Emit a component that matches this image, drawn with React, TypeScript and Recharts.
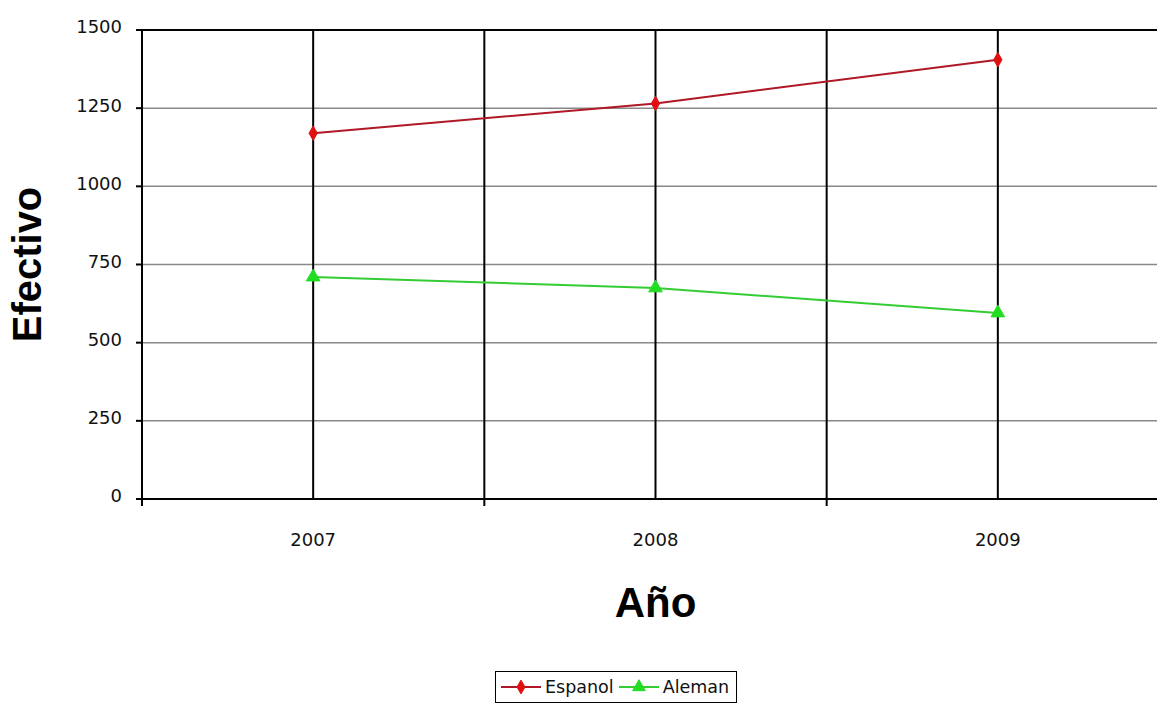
import React from 'react';
import {
  LineChart,
  Line,
  XAxis,
  YAxis,
  CartesianGrid,
  Legend,
  ReferenceLine,
  Symbols,
  Label,
} from 'recharts';

const years = ['2007', '2008', '2009'];
const espanol = [1170, 1265, 1405];
const aleman = [710, 675, 595];
const yTicks = [0, 250, 500, 750, 1000, 1250, 1500];
const xTicks = [0.5, 1, 1.5, 2, 2.5, 3, 3.5];
const seriesNames = ['Espanol', 'Aleman'];

const data = years.map((y, i) => ({
  x: i + 1,
  year: y,
  espanol: espanol[i],
  aleman: aleman[i],
}));

const RED_LINE = '#b01828';
const RED_DOT = '#e01010';
const GREEN_LINE = '#33cc33';
const GREEN_DOT = '#22dd22';
const TICK_FONT = 'DejaVu Sans';

const XTick = (props: any) => {
  const { x, y, payload } = props;
  const v = payload.value;
  if (Number.isInteger(v)) {
    const label = years[v - 1];
    if (!label) return <g />;
    return (
      <text x={x} y={y + 47} textAnchor="middle" fontSize={18} fontFamily={TICK_FONT} fill="#111">
        {label}
      </text>
    );
  }
  return <line x1={x} x2={x} y1={y} y2={y + 7} stroke="#000" strokeWidth={2} />;
};

const DiamondDot = (props: any) => {
  const { cx, cy, index } = props;
  if (cx == null || cy == null) return <g key={`d${index}`} />;
  return <Symbols key={`d${index}`} cx={cx} cy={cy} type="diamond" size={60} fill={RED_DOT} stroke={RED_DOT} />;
};

const TriangleDot = (props: any) => {
  const { cx, cy, index } = props;
  if (cx == null || cy == null) return <g key={`t${index}`} />;
  return <Symbols key={`t${index}`} cx={cx} cy={cy} type="triangle" size={80} fill={GREEN_DOT} stroke={GREEN_DOT} />;
};

const LegendContent = () => (
  <div
    style={{
      display: 'flex',
      alignItems: 'center',
      border: '1.5px solid #000',
      background: '#fff',
      padding: '5px 5px',
      fontFamily: TICK_FONT,
      fontSize: 17.5,
      color: '#111',
      whiteSpace: 'nowrap',
    }}
  >
    <svg width={40} height={20}>
      <line x1={0} x2={40} y1={10} y2={10} stroke={RED_LINE} strokeWidth={2} />
      <Symbols cx={20} cy={10} type="diamond" size={55} fill={RED_DOT} stroke={RED_DOT} />
    </svg>
    <span style={{ margin: '0 5px 0 4px' }}>{seriesNames[0]}</span>
    <svg width={40} height={20}>
      <line x1={0} x2={40} y1={10} y2={10} stroke={GREEN_LINE} strokeWidth={2} />
      <Symbols cx={20} cy={10} type="triangle" size={70} fill={GREEN_DOT} stroke={GREEN_DOT} />
    </svg>
    <span style={{ margin: '0 2px 0 4px' }}>{seriesNames[1]}</span>
  </div>
);

export default function App() {
  return (
    <div
      style={{
        position: 'absolute',
        left: 0,
        top: 0,
        width: 1157,
        height: 708,
        overflow: 'hidden',
        background: '#fff',
      }}
    >
      <LineChart
        width={1180}
        height={708}
        data={data}
        margin={{ top: 30, right: 11, bottom: 0, left: 0 }}
      >
        <CartesianGrid vertical={false} stroke="#888" strokeWidth={1.5} />
        <CartesianGrid horizontal={false} stroke="#000" strokeWidth={2} />
        <XAxis
          dataKey="x"
          type="number"
          domain={[0.5, 3.5]}
          ticks={xTicks}
          interval={0}
          height={209}
          tickSize={0}
          tickMargin={0}
          tickLine={false}
          axisLine={{ stroke: '#000', strokeWidth: 2 }}
          tick={<XTick />}
        >
          <Label
            content={(p: any) => {
              const vb = p.viewBox;
              return (
                <text
                  x={vb.x + vb.width / 2}
                  y={vb.y + 118}
                  textAnchor="middle"
                  fontSize={42}
                  fontWeight="bold"
                  fontFamily="Liberation Sans, Arial, sans-serif"
                  fill="#000"
                >
                  Año
                </text>
              );
            }}
          />
        </XAxis>
        <YAxis
          type="number"
          domain={[0, 1500]}
          ticks={yTicks}
          width={142}
          tickSize={6}
          tickMargin={14}
          tickLine={{ stroke: '#000', strokeWidth: 2 }}
          axisLine={{ stroke: '#000', strokeWidth: 2 }}
          tick={{ fontSize: 18, fontFamily: TICK_FONT, fill: '#111', dy: -3 }}
        >
          <Label
            content={(p: any) => {
              const vb = p.viewBox;
              const cx = 41;
              const cy = vb.y + vb.height / 2;
              return (
                <text
                  x={cx}
                  y={cy}
                  transform={`rotate(-90 ${cx} ${cy})`}
                  textAnchor="middle"
                  fontSize={40}
                  fontWeight="bold"
                  fontFamily="Liberation Sans, Arial, sans-serif"
                  fill="#000"
                >
                  Efectivo
                </text>
              );
            }}
          />
        </YAxis>
        <ReferenceLine y={1500} stroke="#000" strokeWidth={2} />
        <Line
          type="linear"
          dataKey="espanol"
          name={seriesNames[0]}
          stroke={RED_LINE}
          strokeWidth={2}
          dot={<DiamondDot />}
          isAnimationActive={false}
        />
        <Line
          type="linear"
          dataKey="aleman"
          name={seriesNames[1]}
          stroke={GREEN_LINE}
          strokeWidth={2}
          dot={<TriangleDot />}
          isAnimationActive={false}
        />
        <Legend
          layout="horizontal"
          verticalAlign="middle"
          align="center"
          wrapperStyle={{ left: 495, top: 671, width: 'auto', height: 'auto' }}
          content={<LegendContent />}
        />
      </LineChart>
    </div>
  );
}
